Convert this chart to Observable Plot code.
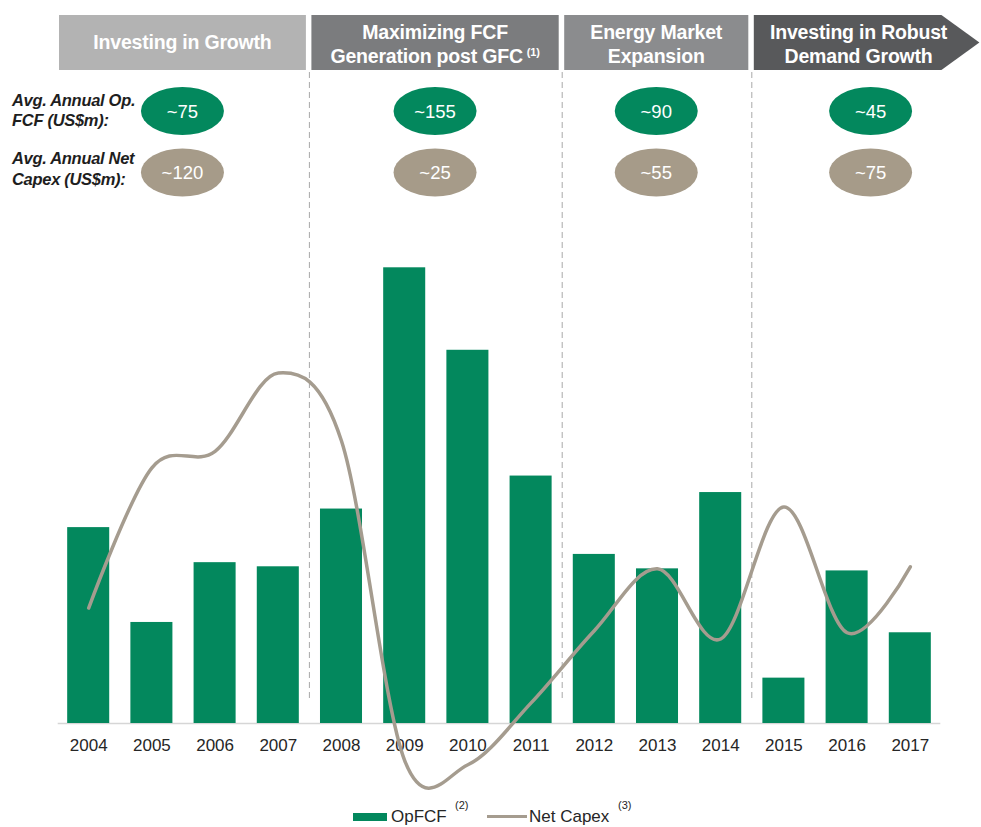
<!DOCTYPE html>
<html>
<head>
<meta charset="utf-8">
<script src="https://cdn.jsdelivr.net/npm/d3@7"></script>
<script src="https://cdn.jsdelivr.net/npm/@observablehq/plot@0.6"></script>
<style>
  body { margin: 0; background: #ffffff; font-family: "Liberation Sans", Arial, sans-serif; }
  #chart svg, #legend svg { display: block; }
</style>
</head>
<body>
<div id="chart"></div>
<div id="legend"></div>
<script>
// ---- data ----
const years = ["2004","2005","2006","2007","2008","2009","2010","2011","2012","2013","2014","2015","2016","2017"];
const opFCF = [95, 49, 78, 76, 104, 221, 181, 120, 82, 75, 112, 22, 74, 44];
const netCapex = [56, 124, 132, 170, 137, -18, -20, 10, 45, 75, 41, 105, 44, 76];

const periodTitles = [["Investing in Growth"], ["Maximizing FCF", "Generation post GFC"], ["Energy Market", "Expansion"], ["Investing in Robust", "Demand Growth"]];
const periodNotes = ["", "(1)", "", ""];
const periodFirst = ["2004", "2008", "2012", "2015"];
const periodLast = ["2007", "2011", "2014", "2017"];
const periodFill = ["#b3b3b3", "#7b7c7e", "#8b8c8e", "#58595b"];
const avgOpFCFLabels = ["~75", "~155", "~90", "~45"];
const avgCapexLabels = ["~120", "~25", "~55", "~75"];
const rowLabels = [["Avg. Annual Op.", "FCF (US$m):"], ["Avg. Annual Net", "Capex (US$m):"]];
const legendLabels = ["OpFCF", "Net Capex"];
const legendNotes = ["(2)", "(3)"];

const GREEN = "#03885d";
const TAN = "#a59c8f";
const FONT = "'Liberation Sans', Arial, sans-serif";

const data = years.map((year, i) => ({year, opfcf: opFCF[i], capex: netCapex[i]}));

const chart = Plot.plot({
  width: 981,
  height: 800,
  marginLeft: 57.7,
  marginRight: 40.7,
  marginTop: 0,
  marginBottom: 0,
  style: {fontFamily: FONT, background: "#ffffff", overflow: "visible"},
  x: {domain: years, paddingInner: 0.335, paddingOuter: 0.15, round: false, axis: null},
  y: {domain: [0, 200], range: [723, 310.6], axis: null},
  marks: [
    Plot.ruleY([0], {stroke: "#d6d6d6", strokeWidth: 1.5}),
    Plot.barY(data, {x: "year", y: "opfcf", fill: GREEN}),
    Plot.text(data, {x: "year", y: () => 0, text: "year", dy: 22, fontSize: 17, fill: "#262626"}),
    Plot.line(data, {x: "year", y: "capex", stroke: TAN, strokeWidth: 3.5, curve: "cardinal", tension: 0})
  ]
});
document.getElementById("chart").appendChild(chart);

// ---- header decorations placed with the plot's own x scale ----
const sx = chart.scale("x");
const bw = sx.bandwidth;
const step = sx.step;
const cx = v => sx.apply(v) + bw / 2;
const svg = d3.select(chart);
const back = svg.insert("g", ":first-child").attr("class", "deco-back");
const front = svg.append("g").attr("class", "deco-front").attr("text-anchor", "start");

const seps = periodFirst.map(v => cx(v) - step / 2);
// dashed separators
seps.slice(1).forEach(x => {
  back.append("line")
    .attr("x1", x).attr("x2", x).attr("y1", 72).attr("y2", 702)
    .attr("stroke", "#a8a8a8").attr("stroke-width", 1).attr("stroke-dasharray", "6,4");
});

periodTitles.forEach((lines, i) => {
  const left = i === 0 ? seps[0] + 2.4 : seps[i] + 2;
  const right = i < 3 ? seps[i + 1] - 3.5 : cx(periodLast[i]) + step / 2;
  const top = 15, bottom = 70;
  let textCenter = (left + right) / 2, ellCenter = textCenter;
  if (i === 3) {
    const tip = right + 38;
    front.append("polygon")
      .attr("points", `${left},${top} ${right},${top} ${tip},${(top + bottom) / 2} ${right},${bottom} ${left},${bottom}`)
      .attr("fill", periodFill[i]);
    textCenter = (left + tip) / 2 - 8;
    ellCenter = (left + tip) / 2 + 4;
  } else {
    front.append("rect").attr("x", left).attr("y", top)
      .attr("width", right - left).attr("height", bottom - top).attr("fill", periodFill[i]);
  }
  const baselines = lines.length === 1 ? [49] : [39, 63];
  lines.forEach((ln, j) => {
    const t = front.append("text")
      .attr("x", textCenter).attr("y", baselines[j])
      .attr("text-anchor", "middle")
      .attr("font-family", FONT).attr("font-weight", "bold").attr("font-size", 19.5)
      .attr("letter-spacing", "-0.2").attr("fill", "#ffffff")
      .text(ln);
    if (j === lines.length - 1 && periodNotes[i]) {
      t.append("tspan").attr("font-size", 11).attr("dx", 4).attr("dy", -7).text(periodNotes[i]);
    }
  });
  // average ellipses
  [[avgOpFCFLabels[i], 111, GREEN], [avgCapexLabels[i], 172.5, "#a69b89"]].forEach(([lab, cy, col]) => {
    front.append("ellipse").attr("cx", ellCenter).attr("cy", cy)
      .attr("rx", 41.5).attr("ry", 24).attr("fill", col);
    front.append("text").attr("x", ellCenter).attr("y", cy + 6.5)
      .attr("text-anchor", "middle").attr("font-family", FONT).attr("font-size", 18.5)
      .attr("fill", "#ffffff").text(lab);
  });
});

// row labels
const rowBaselines = [[106, 126], [164, 185]];
rowLabels.forEach((lines, r) => {
  lines.forEach((ln, j) => {
    front.append("text").attr("x", 12).attr("y", rowBaselines[r][j])
      .attr("text-anchor", "start")
      .attr("font-family", FONT).attr("font-weight", "bold").attr("font-style", "italic")
      .attr("font-size", 16.5).attr("letter-spacing", "-0.3").attr("fill", "#1e1e1e").text(ln);
  });
});

// ---- legend below the chart ----
const leg = d3.select("#legend").append("svg").attr("width", 981).attr("height", 27);
leg.append("rect").attr("x", 353).attr("y", 13).attr("width", 34).attr("height", 8).attr("fill", GREEN);
leg.append("text").attr("x", 391).attr("y", 22).attr("font-family", FONT).attr("font-size", 17)
  .attr("fill", "#262626").text(legendLabels[0]);
leg.append("text").attr("x", 455).attr("y", 9).attr("font-family", FONT).attr("font-size", 11)
  .attr("fill", "#262626").text(legendNotes[0]);
leg.append("line").attr("x1", 487).attr("x2", 527).attr("y1", 16.5).attr("y2", 16.5)
  .attr("stroke", TAN).attr("stroke-width", 3);
leg.append("text").attr("x", 529).attr("y", 22).attr("font-family", FONT).attr("font-size", 17)
  .attr("fill", "#262626").text(legendLabels[1]);
leg.append("text").attr("x", 618).attr("y", 9).attr("font-family", FONT).attr("font-size", 11)
  .attr("fill", "#262626").text(legendNotes[1]);
</script>
</body>
</html>
